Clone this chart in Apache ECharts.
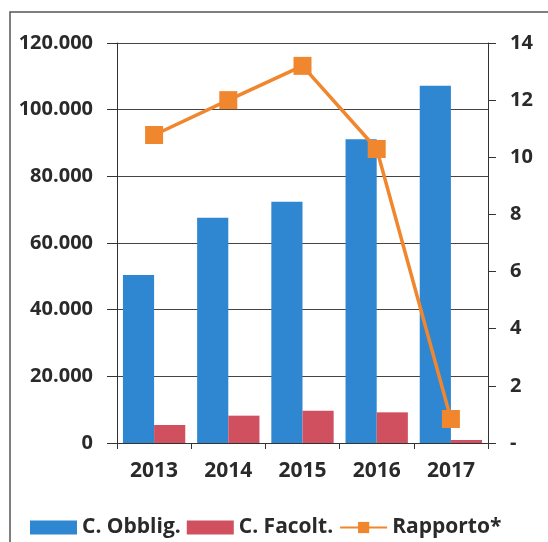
<!DOCTYPE html>
<html><head><meta charset="utf-8">
<script src="https://cdn.jsdelivr.net/npm/echarts@6/dist/echarts.min.js"></script>
<style>html,body{margin:0;padding:0;background:#fff}#c{width:548px;height:542px}</style>
</head><body><div id="c"></div>
<script>
const years = ['2013','2014','2015','2016','2017'];
const obblig = [50400, 67600, 72400, 91100, 107200];
const facolt = [5400, 8200, 9700, 9200, 900];
const rapporto = [10.78, 12.0, 13.2, 10.29, 0.84];
const leftTicks = [0, 20000, 40000, 60000, 80000, 100000, 120000];
const rightTicks = [0, 2, 4, 6, 8, 10, 12, 14];

const FONT = 'Open Sans';
const TXT = '#2a2a2a';
const chart = echarts.init(document.getElementById('c'));
chart.setOption({
  animation: false,
  backgroundColor: '#fff',
  graphic: [{
    type: 'rect', shape: {x: 10, y: 12, width: 600, height: 600},
    style: {fill: 'none', stroke: '#555', lineWidth: 1.5}, silent: true, z: -1
  }],
  grid: {left: 117, right: 60, top: 43, bottom: 99},
  legend: {
    left: 25, top: 512, itemGap: 6, itemWidth: 47, itemHeight: 14,
    textStyle: {fontFamily: FONT, fontWeight: 'bold', fontSize: 21, color: TXT},
    data: [
      {name: 'C. Obblig.', icon: 'rect'},
      {name: 'C. Facolt.', icon: 'rect'},
      {name: 'Rapporto*'}
    ]
  },
  xAxis: {
    type: 'category', data: years,
    axisLine: {lineStyle: {color: '#333', width: 1}},
    axisTick: {show: true, length: 6, lineStyle: {color: '#333'}},
    axisLabel: {fontFamily: FONT, fontWeight: 'bold', fontSize: 21, color: TXT, margin: 18}
  },
  yAxis: [{
    type: 'value', min: 0, max: 120000, interval: 20000,
    axisLine: {show: true, lineStyle: {color: '#333'}},
    axisTick: {show: true, length: 10, lineStyle: {color: '#333'}},
    splitLine: {lineStyle: {color: '#444', width: 1}},
    axisLabel: {fontFamily: FONT, fontWeight: 'bold', fontSize: 20, color: TXT, margin: 24,
      formatter: v => leftTicks.includes(v) ? (v === 0 ? '0' : (v/1000) + '.000') : ''}
  }, {
    type: 'value', min: 0, max: 14, interval: 2,
    axisLine: {show: true, lineStyle: {color: '#333'}},
    axisTick: {show: true, length: 8, lineStyle: {color: '#333'}},
    splitLine: {show: false},
    axisLabel: {fontFamily: FONT, fontWeight: 'bold', fontSize: 20, color: TXT, margin: 22,
      formatter: v => rightTicks.includes(v) ? (v === 0 ? '-' : String(v)) : ''}
  }],
  series: [{
    name: 'C. Obblig.', type: 'bar', data: obblig, barGap: '0%', barCategoryGap: '16%',
    itemStyle: {color: '#2F86D1'}
  }, {
    name: 'C. Facolt.', type: 'bar', data: facolt,
    itemStyle: {color: '#D1505F'}
  }, {
    name: 'Rapporto*', type: 'line', yAxisIndex: 1, data: rapporto,
    symbol: 'rect', symbolSize: 18,
    lineStyle: {color: '#F0862E', width: 3.5},
    itemStyle: {color: '#F0862E'}, z: 5
  }]
});
</script></body></html>
